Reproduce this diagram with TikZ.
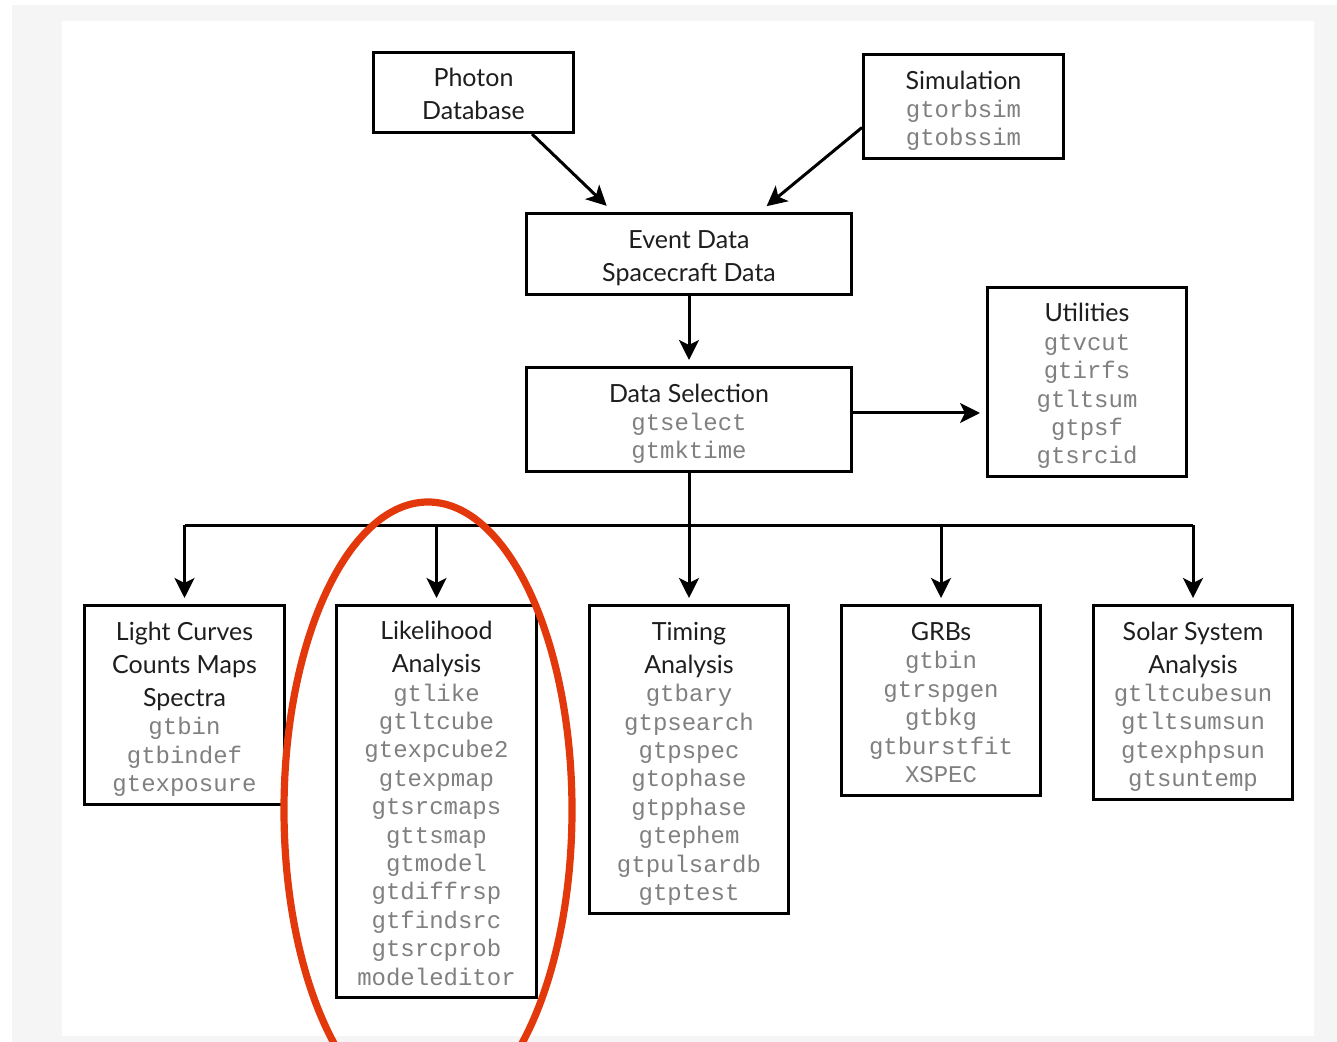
\documentclass[tikz,border=0pt]{standalone}
\usepackage{fontspec}
\setmainfont{Lato}
\setmonofont{Liberation Mono}
\usetikzlibrary{arrows.meta,calc}
\definecolor{codegray}{RGB}{128,128,128}
\definecolor{ink}{RGB}{30,30,30}
\definecolor{framegray}{RGB}{245,245,245}
\definecolor{circ}{RGB}{226,56,12}
\newcommand{\ttl}[1]{{\fontsize{12.5}{14.2}\selectfont\color{ink}#1}}
\newcommand{\cd}[1]{{\ttfamily\color{codegray}#1}}
\newcommand{\stk}[1]{{\fontsize{12}{14.2}\selectfont\begin{tabular}{@{}c@{}}\rule{0pt}{15.2pt}#1\end{tabular}}}
\begin{document}
\begin{tikzpicture}[x=0.5pt,y=-0.5pt,
  box/.style={draw=black, line width=1.5pt, inner sep=0pt, fill=white, text=ink},
  arr/.style={line width=1.5pt, -{Stealth[length=10pt,width=10pt,inset=2.5pt]}, shorten >=3pt},
  bus/.style={line width=1.5pt}]
\useasboundingbox (0,0) rectangle (1337,1042);
\clip (0,0) rectangle (1337,1042);
\fill[white] (0,0) rectangle (1337,1042);
\fill[framegray] (12,5) rectangle (1337,1042);
\fill[white] (62,21) rectangle (1314,1036);

\node[box, minimum width=100pt, minimum height=40pt] (photon) at (473.5,92.5)
  {\stk{\ttl{Photon}\\[2.3pt]\ttl{Database}}};
\node[box, minimum width=100pt, minimum height=52pt] (sim) at (963.5,106.5)
  {\stk{\ttl{Simulation}\\\cd{gtorbsim}\\\cd{gtobssim}}};
\node[box, minimum width=162.5pt, minimum height=40.5pt] (event) at (689,254)
  {\stk{\ttl{Event Data}\\[2.3pt]\ttl{Spacecraft Data}}};
\node[box, minimum width=162.5pt, minimum height=52pt] (dsel) at (689,419.5)
  {\stk{\ttl{Data Selection}\\\cd{gtselect}\\\cd{gtmktime}}};
\node[box, minimum width=99.5pt, minimum height=94.5pt] (util) at (1087,382)
  {\stk{\ttl{Utilities}\\\cd{gtvcut}\\\cd{gtirfs}\\\cd{gtltsum}\\\cd{gtpsf}\\\cd{gtsrcid}}};

\node[box, minimum width=100pt, minimum height=99.5pt] (lc) at (184.5,705)
  {\stk{\ttl{Light Curves}\\[2.3pt]\ttl{Counts Maps}\\[2.3pt]\ttl{Spectra}\\\cd{gtbin}\\\cd{gtbindef}\\\cd{gtexposure}}};
\node[box, minimum width=100pt, minimum height=196pt] (like) at (436.5,801.5)
  {\stk{\ttl{Likelihood}\\[2.3pt]\ttl{Analysis}\\\cd{gtlike}\\\cd{gtltcube}\\\cd{gtexpcube2}\\\cd{gtexpmap}\\\cd{gtsrcmaps}\\\cd{gttsmap}\\\cd{gtmodel}\\\cd{gtdiffrsp}\\\cd{gtfindsrc}\\\cd{gtsrcprob}\\\cd{modeleditor}}};
\node[box, minimum width=99.5pt, minimum height=154pt] (timing) at (689,759.5)
  {\stk{\ttl{Timing}\\[2.3pt]\ttl{Analysis}\\\cd{gtbary}\\\cd{gtpsearch}\\\cd{gtpspec}\\\cd{gtophase}\\\cd{gtpphase}\\\cd{gtephem}\\\cd{gtpulsardb}\\\cd{gtptest}}};
\node[box, minimum width=99.5pt, minimum height=95pt] (grb) at (941,700.5)
  {\stk{\ttl{GRBs}\\\cd{gtbin}\\\cd{gtrspgen}\\\cd{gtbkg}\\\cd{gtburstfit}\\\cd{XSPEC}}};
\node[box, minimum width=99.5pt, minimum height=97pt] (solar) at (1193,702.5)
  {\stk{\ttl{Solar System}\\[2.3pt]\ttl{Analysis}\\\cd{gtltcubesun}\\\cd{gtltsumsun}\\\cd{gtexphpsun}\\\cd{gtsuntemp}}};

% connectors
\draw[arr] ($(photon.south)+(58.5,0)$) -- ($(event.north)+(-78,-2)$);
\draw[arr] ($(sim.west)+(0,21)$) -- ($(event.north)+(73,-2)$);
\draw[arr] (event.south) -- (dsel.north);
\draw[arr] ($(dsel.east)+(0,-6.5)$) coordinate (ds) -- (ds -| util.west);
\coordinate (busy) at (689,525);
\draw[bus] (lc.north |- busy) -- (solar.north |- busy);
\draw[arr] (dsel.south) -- (timing.north);
\draw[arr] (lc.north |- busy) -- (lc.north);
\draw[arr] (like.north |- busy) -- (like.north);
\draw[arr] (grb.north |- busy) -- (grb.north);
\draw[arr] (solar.north |- busy) -- (solar.north);

% red highlight ellipse
\draw[circ, line width=3.6pt] (428,810) ellipse [x radius=72pt, y radius=154pt];
\end{tikzpicture}
\end{document}
